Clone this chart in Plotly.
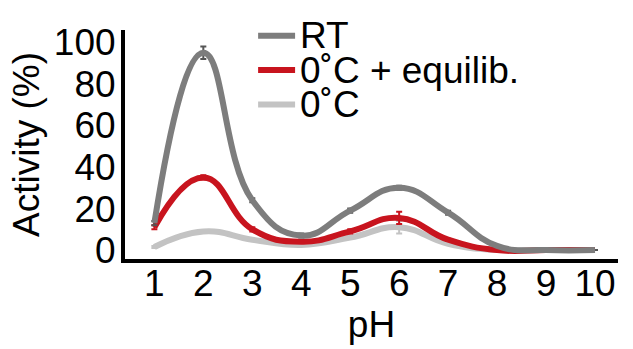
import plotly.graph_objects as go

ph = [1, 2, 3, 4, 5, 6, 7, 8, 9, 10]
rt = [13, 95, 24, 7, 19, 30, 18, 2, 0, 0]
rt_err = [1, 3, 1, 1, 1, 1, 1, 0, 0, 0]
equilib = [11, 35, 10, 4, 9, 15.5, 5, 0, 0, 0]
equilib_err = [1, 1, 1, 0.5, 1, 3, 0.5, 0, 0, 0]
cold = [1.5, 9, 5, 2.5, 6, 11, 3, 0, 0, 0]
cold_err = [0.5, 0.5, 0.5, 0.5, 0.5, 3, 0.5, 0, 0, 0]
series_names = ["RT", "0\u02daC + equilib.", "0\u02daC"]
colors = ["#7d7d7d", "#c8141e", "#c3c3c3"]
y_ticks = [0, 20, 40, 60, 80, 100]

FONT = "Arial, Liberation Sans, sans-serif"
FS = 37

fig = go.Figure()
# draw light first so darker lines sit on top
order = [(2, cold, cold_err), (1, equilib, equilib_err), (0, rt, rt_err)]
for idx, vals, errs in order:
    fig.add_trace(go.Scatter(
        x=ph, y=vals, mode="lines",
        line=dict(color=colors[idx], width=6, shape="spline", smoothing=1.3),
        error_y=dict(type="data", array=errs, visible=True, color="#555555" if idx == 0 else colors[idx],
                     thickness=2, width=3),
        name=series_names[idx], showlegend=False,
    ))

# legend (manual, compact)
leg_y = [0.975, 0.825, 0.675]
for i in range(3):
    fig.add_shape(type="line", xref="paper", yref="paper",
                  x0=0.27, x1=0.345, y0=leg_y[i], y1=leg_y[i],
                  line=dict(color=colors[i], width=6))
    fig.add_annotation(xref="paper", yref="paper", x=0.35, y=leg_y[i],
                       xanchor="left", yanchor="middle", showarrow=False,
                       text=series_names[i], font=dict(family=FONT, size=FS, color="black"))

fig.update_layout(
    width=633, height=349,
    margin=dict(l=125, r=15, t=30, b=90),
    paper_bgcolor="white", plot_bgcolor="white",
    font=dict(family=FONT, size=FS, color="black"),
    xaxis=dict(range=[0.4, 10.47], tickvals=ph, showgrid=False, zeroline=False,
               showline=True, linecolor="black", linewidth=4, ticks="",
               ticklabelstandoff=-11,
               title=dict(text="pH", standoff=4, font=dict(size=FS)),
               tickfont=dict(size=FS)),
    yaxis=dict(range=[-4.3, 106], tickvals=y_ticks, showgrid=False, zeroline=False,
               showline=True, linecolor="black", linewidth=4, ticks="",
               ticklabelstandoff=-2,
               title=dict(text="Activity (%)", standoff=4, font=dict(size=FS)),
               tickfont=dict(size=FS)),
)

fig.write_html("out.html")
